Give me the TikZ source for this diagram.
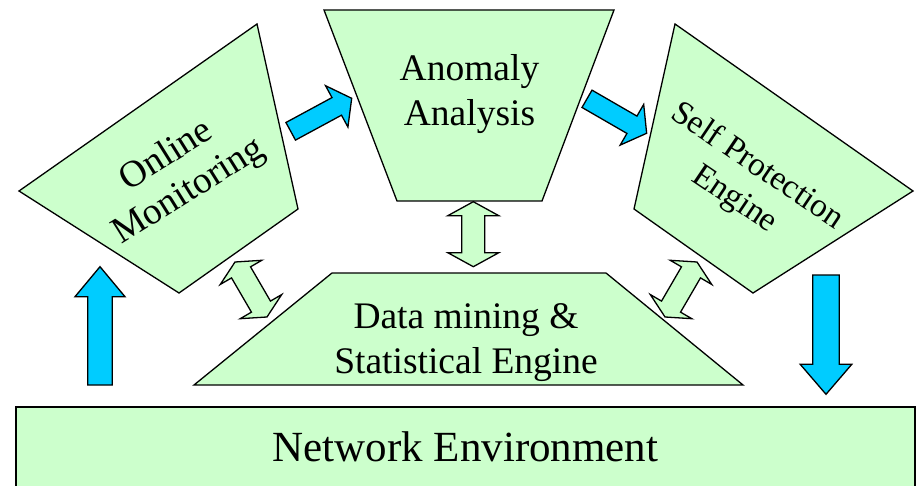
\documentclass[tikz,border=0pt]{standalone}
\usepackage{fontspec}
\setmainfont{Liberation Serif}
\definecolor{boxgreen}{HTML}{CCFFCC}
\definecolor{arrowblue}{HTML}{00CCFF}
\newdimen\bkAx \newdimen\bkAy \newdimen\bkBx \newdimen\bkBy
\newcommand{\bkprep}[2]{%
  \pgfextractx{\bkAx}{\pgfpointanchor{#1}{center}}%
  \pgfextracty{\bkAy}{\pgfpointanchor{#1}{center}}%
  \pgfextractx{\bkBx}{\pgfpointanchor{#2}{center}}%
  \pgfextracty{\bkBy}{\pgfpointanchor{#2}{center}}%
  \pgfmathsetmacro{\bkAng}{atan2(\bkBy-\bkAy,\bkBx-\bkAx)}%
  \pgfmathsetmacro{\bkLen}{veclen(\bkBx-\bkAx,\bkBy-\bkAy)}%
}
% #1 style, #2 from, #3 to, #4 shaft half width, #5 head half width, #6 head length
\newcommand{\singleblock}[6]{%
  \bkprep{#2}{#3}%
  \begin{scope}[shift={(\the\bkAx,\the\bkAy)},rotate=\bkAng]
    \path[#1] (0,-#4) -- (\bkLen-#6,-#4) -- (\bkLen-#6,-#5) -- (\bkLen,0)
      -- (\bkLen-#6,#5) -- (\bkLen-#6,#4) -- (0,#4) -- cycle;
  \end{scope}}
\newcommand{\doubleblock}[6]{%
  \bkprep{#2}{#3}%
  \begin{scope}[shift={(\the\bkAx,\the\bkAy)},rotate=\bkAng]
    \path[#1] (0,0) -- (#6,#5) -- (#6,#4) -- (\bkLen-#6,#4) -- (\bkLen-#6,#5)
      -- (\bkLen,0) -- (\bkLen-#6,-#5) -- (\bkLen-#6,-#4) -- (#6,-#4)
      -- (#6,-#5) -- cycle;
  \end{scope}}
\begin{document}
\begin{tikzpicture}[x=1pt,y=1pt,
  shapebox/.style={draw=black, fill=boxgreen, line width=1.3pt, line join=miter},
  bluearrow/.style={draw=black, fill=arrowblue, line width=1.3pt, line join=miter},
  greenarrow/.style={draw=black, fill=boxgreen, line width=1.3pt, line join=miter},
  lbl/.style={align=center, inner sep=0pt, text=black}]
\useasboundingbox (0,0) rectangle (917,485);
\clip (0,0) rectangle (917,485);
\fill[white] (0,0) rectangle (917,485);

% shapes
\draw[shapebox] (257,461) -- (298,276) -- (179,192) -- (19,294) -- cycle;
\draw[shapebox] (324,475) -- (614,475) -- (542,284) -- (397,284) -- cycle;
\draw[shapebox] (675,461) -- (913,294) -- (753,192) -- (634,276) -- cycle;
\draw[shapebox] (332,212) -- (606,212) -- (743,100) -- (194,100) -- cycle;
\draw[shapebox, line width=2pt] (16,78) rectangle (915,-20);

% labels
\node[lbl, rotate=32, font=\fontsize{37.5}{42}\selectfont] (om) at (178.1,310.8) {Online\\Monitoring};
\node[lbl, font=\fontsize{37.5}{45}\selectfont] (aa) at (469.5,391.2) {Anomaly\\Analysis};
\node[lbl, rotate=-34, font=\fontsize{33.5}{40}\selectfont] (sp) at (745.7,301.7) {Self Protection\\Engine};
\node[lbl, font=\fontsize{37.5}{44.3}\selectfont] (dm) at (466,142.5) {Data mining \&\\Statistical Engine};
\node[lbl, font=\fontsize{43}{50}\selectfont, anchor=base] (ne) at (465.5,23.3) {Network Environment};

% arrow end points
\coordinate (b1s) at (290.7,353.7); \coordinate (b1e) at (351.7,386.7);
\coordinate (b2s) at (587,386.2);   \coordinate (b2e) at (646.7,351.7);
\coordinate (b3s) at (100,100);     \coordinate (b3e) at (100,218.3);
\coordinate (b4s) at (826,210);     \coordinate (b4e) at (826,90.7);
\coordinate (g1s) at (473.3,283.3); \coordinate (g1e) at (473.3,218.3);
\coordinate (g2s) at (235,223);     \coordinate (g2e) at (267,168);
\coordinate (g3s) at (697,223);     \coordinate (g3e) at (665,168);

% block arrows
\singleblock{bluearrow}{b1s}{b1e}{10}{23.5}{17}
\singleblock{bluearrow}{b2s}{b2e}{10}{23.5}{17}
\singleblock{bluearrow}{b3s}{b3e}{12.3}{25}{30}
\singleblock{bluearrow}{b4s}{b4e}{13.3}{25.8}{30}
\doubleblock{greenarrow}{g1s}{g1e}{11.5}{25.5}{14}
\doubleblock{greenarrow}{g2s}{g2e}{11}{24}{12}
\doubleblock{greenarrow}{g3s}{g3e}{11}{24}{12}
\end{tikzpicture}
\end{document}
